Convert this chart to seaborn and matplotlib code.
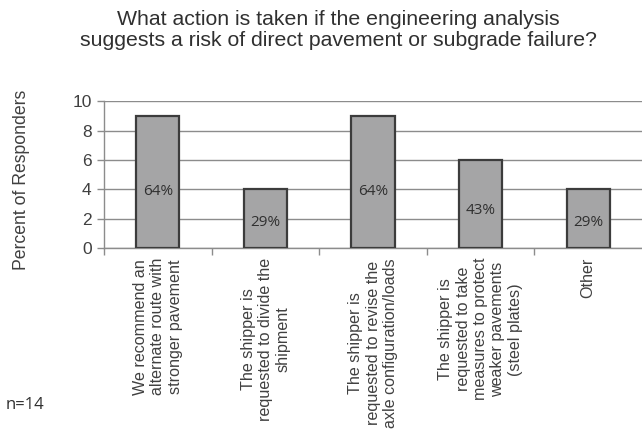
import matplotlib
matplotlib.use("Agg")
import matplotlib.pyplot as plt
import seaborn as sns
import pandas as pd
from matplotlib.ticker import FixedLocator

categories = [
    "We recommend an\nalternate route with\nstronger pavement",
    "The shipper is\nrequested to divide the\nshipment",
    "The shipper is\nrequested to revise the\naxle configuration/loads",
    "The shipper is\nrequested to take\nmeasures to protect\nweaker pavements\n(steel plates)",
    "Other",
]
values = [9, 4, 9, 6, 4]
pct_labels = ["64%", "29%", "64%", "43%", "29%"]
y_ticks = [0, 2, 4, 6, 8, 10]

sns.set_style("white")
plt.rcParams['font.family'] = ['Liberation Sans', 'DejaVu Sans']

fig = plt.figure(figsize=(6.42, 4.34), dpi=100)
ax = fig.add_axes([0.162, 0.428, 0.838, 0.339])

df = pd.DataFrame({"cat": categories, "val": values})
sns.barplot(data=df, x="cat", y="val", ax=ax, width=0.4, color="#a5a5a6",
            edgecolor="#3c3c3c", linewidth=1.6, saturation=1, zorder=3)

ax.set_ylim(0, 10)
ax.set_xlim(-0.5, 4.5)
ax.set_yticks(y_ticks)
ax.yaxis.grid(True, color="#8c8c8c", linewidth=1.0, zorder=0)
ax.set_axisbelow(True)

for s in ["top", "right"]:
    ax.spines[s].set_visible(False)
for s in ["left", "bottom"]:
    ax.spines[s].set_color("#8c8c8c")
    ax.spines[s].set_linewidth(1.0)

ax.tick_params(axis="y", which="major", length=5, width=1, color="#8c8c8c",
               labelsize=12.5, labelcolor="#404040", pad=4, left=True)
ax.set_xticks(range(len(categories)))
ax.set_xticklabels(categories, rotation=90, ha="center", va="top",
                   fontsize=11.6, color="#404040", multialignment="center")
ax.tick_params(axis="x", which="major", length=0, pad=7)
ax.xaxis.set_minor_locator(FixedLocator([-0.5, 0.5, 1.5, 2.5, 3.5]))
ax.tick_params(axis="x", which="minor", length=5, width=1, color="#8c8c8c", bottom=True)

for i, (v, lab) in enumerate(zip(values, pct_labels)):
    ax.text(i, v * 0.43, lab, ha="center", va="center", fontsize=11,
            color="#303030", family=["Open Sans", "DejaVu Sans"], zorder=5)

ax.set_xlabel("")
ax.set_ylabel("")
fig.text(22 / 642, 1 - 180 / 434, "Percent of Responders", rotation=90,
         ha="center", va="center", fontsize=12.7, color="#404040")

fig.text(0.527, 0.978, "What action is taken if the engineering analysis\nsuggests a risk of direct pavement or subgrade failure?",
         ha="center", va="top", fontsize=15.3, color="#303030", linespacing=1.15)
fig.text(0.008, 0.066, "n=14", ha="left", va="center", fontsize=12,
         color="#303030", family=["Open Sans", "DejaVu Sans"])

fig.savefig("out.png", dpi=100)
